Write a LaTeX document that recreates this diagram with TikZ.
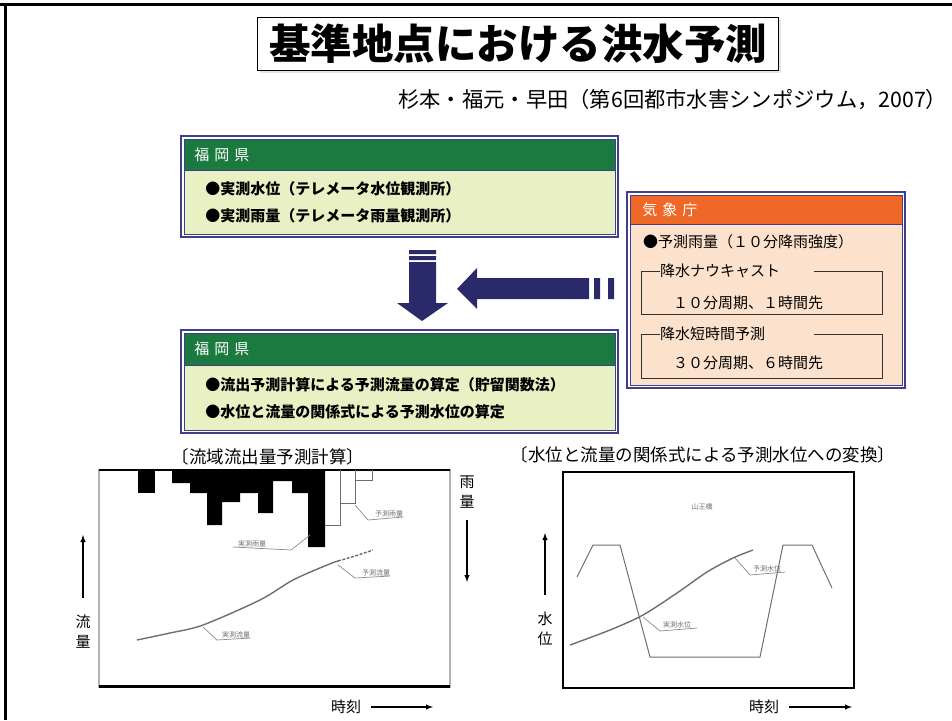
\documentclass[tikz,border=0pt]{standalone}
\usepackage{fontspec}
\setmainfont{Noto Sans CJK JP}
\usetikzlibrary{positioning,shadows}
\definecolor{framenavy}{RGB}{64,64,136}
\definecolor{hdgreen}{RGB}{26,122,64}
\definecolor{bodyyellow}{RGB}{232,240,196}
\definecolor{hdorange}{RGB}{240,104,40}
\definecolor{bodypeach}{RGB}{252,226,204}
\definecolor{arrownavy}{RGB}{42,42,106}
\definecolor{plotgrey}{RGB}{110,110,110}
\newcommand{\fsz}[1]{\fontsize{#1}{#1}\selectfont}

\begin{document}
\begin{tikzpicture}[x=1pt,y=-1pt,
    outerframe/.style={draw=framenavy,line width=1.3pt},
    hdbox/.style={anchor=north west,draw=framenavy,line width=0.6pt,inner xsep=10pt,inner ysep=0pt,
                  text=white,font=\fsz{15},align=left},
    bodybox/.style={anchor=north west,draw=framenavy,line width=0.6pt,inner ysep=0pt,
                    font=\fontsize{15}{27}\selectfont\bfseries,align=left},
    jmatext/.style={anchor=west,inner sep=0pt,font=\fsz{15}},
    subline/.style={draw=black!80,line width=0.7pt},
    blockarrow/.style={fill=arrownavy},
    chartlbl/.style={inner sep=0pt,font=\fsz{7},text=plotgrey},
    leader/.style={draw=plotgrey!80,line width=0.7pt},
    caption/.style={inner sep=0pt,font=\fsz{17.5}},
    axislbl/.style={inner sep=0pt,font=\fontsize{15}{20}\selectfont,align=center},
    axisarrow/.style={-latex,line width=1.4pt}]
\useasboundingbox (0,0) rectangle (952,720);
% outer frame
\draw[line width=3pt] (0,4) -- (952,4);
\draw[line width=3pt] (5,4) -- (5,720);

% title
\node[draw,fill=white,line width=0.8pt,minimum width=521pt,minimum height=53pt,
      font=\fsz{41.5}\bfseries,drop shadow={shadow xshift=2pt,shadow yshift=-2pt,fill=gray!40}]
      (title) at (518,44) {基準地点における洪水予測};
\node[anchor=west,inner sep=0pt,font=\fsz{21.3}] (source) at (398,100)
      {杉本・福元・早田（第6回都市水害シンポジウム，2007）};

% Fukuoka prefecture: observation
\draw[outerframe] (181,136) rectangle (618,237);
\node[hdbox,fill=hdgreen,text width=411pt,minimum height=31pt] (prefA) at (184,139) {福 岡 県};
\node[bodybox,fill=bodyyellow,text width=389pt,inner xsep=21pt,minimum height=64pt] (obs) at (184,170)
      {●実測水位（テレメータ水位観測所）\\●実測雨量（テレメータ雨量観測所）};

% Fukuoka prefecture: forecast
\draw[outerframe] (181,330) rectangle (618,433);
\node[hdbox,fill=hdgreen,text width=411pt,minimum height=32pt] (prefB) at (184,333) {福 岡 県};
\node[bodybox,fill=bodyyellow,text width=389pt,inner xsep=21pt,minimum height=65pt] (fcst) at (184,365)
      {●流出予測計算による予測流量の算定（貯留関数法）\\●水位と流量の関係式による予測水位の算定};

% JMA
\draw[outerframe] (627,192) rectangle (905,388);
\node[hdbox,fill=hdorange,text width=248pt,inner xsep=12pt,minimum height=29pt] (jma) at (630,195) {気 象 庁};
\node[anchor=north west,draw=framenavy,line width=0.6pt,fill=bodypeach,minimum width=272pt,
      minimum height=161pt,inner sep=0pt] (jmabody) at (630,224) {};
\node[jmatext] (jmarain) at (643,242) {●予測雨量（１０分降雨強度）};
\node[jmatext] (nowcast) at (660,271) {降水ナウキャスト};
\node[jmatext] (nowcastv) at (673,303) {１０分周期、１時間先};
\node[jmatext] (shortfc) at (660,334) {降水短時間予測};
\node[jmatext] (shortfcv) at (673,363) {３０分周期、６時間先};
\draw[subline] (nowcast.west) -- (641,271) -- (641,314) -- (882,314) -- (882,271) -- (814,271);
\draw[subline] (shortfc.west) -- (641,334) -- (641,378) -- (882,378) -- (882,334) -- (814,334);

% block arrows
\fill[blockarrow] (409,250) rectangle (436,254) (409,256) rectangle (436,260);
\fill[blockarrow] (409,262) -- (436,262) -- (436,303) -- (448,303) -- (422,321) -- (397,303) -- (409,303) -- cycle;
\fill[blockarrow] (589,278) -- (477,278) -- (477,268) -- (457,289) -- (477,309) -- (477,299) -- (589,299) -- cycle;
\fill[blockarrow] (594,278) rectangle (600,299) (608,278) rectangle (614,299);

% runoff chart
\node[caption] (runoffcap) at (268,457) {〔流域流出量予測計算〕};
\draw[gray!60,line width=1.2pt] (99,470) rectangle (450,687);
\draw[line width=1.5pt] (99,470) -- (450,470);
\draw[line width=3pt] (99,686) -- (450,686);
\fill (138,470) rectangle (155,493);
\fill (172,470) -- (172,483) -- (190,483) -- (190,493) -- (207,493) -- (207,525) -- (222,525) -- (222,502)
      -- (240,502) -- (240,493) -- (258,493) -- (258,513) -- (273,513) -- (273,481) -- (292,481) -- (292,493)
      -- (308,493) -- (308,547) -- (325,547) -- (325,470) -- cycle;
\draw[plotgrey,line width=0.8pt] (325,525) -- (340,525) -- (340,470) (340,503) -- (355,503) -- (355,470)
      (355,480) -- (372,480) -- (372,470);
\draw[plotgrey,line width=1.4pt] plot[smooth] coordinates {(137,640) (170,633) (203,625) (260,600) (293,580) (327,565) (338,561)};
\draw[plotgrey,line width=1.4pt,dash pattern=on 3pt off 1.5pt] plot[smooth] coordinates {(338,561) (355,556) (373,550)};
\node[chartlbl,anchor=south west] (fcrain) at (375,517) {予測雨量};
\node[chartlbl,anchor=south west] (obsrain) at (238,547) {実測雨量};
\node[chartlbl,anchor=south west] (fcflow) at (362,576) {予測流量};
\node[chartlbl,anchor=south west] (obsflow) at (222,638) {実測流量};
\draw[leader] (355,505) -- (368,520) -- (fcrain.south east);
\draw[leader] (310,535) -- (291,550) -- ([xshift=-5pt]obsrain.south west);
\draw[leader] (338,565) -- (355,578) -- (fcflow.south east);
\draw[leader] (203,627) -- (217,640) -- (obsflow.south east);
\node[axislbl] (flowlbl) at (83,632) {流\\量};
\node[axislbl] (rainlbl) at (467,492) {雨\\量};
\node[axislbl,anchor=west] (timeA) at (331,707) {時刻};
\draw[axisarrow] (83,598) -- (83,535);
\draw[axisarrow] (467,520) -- (467,582);
\draw[axisarrow] ([xshift=10pt]timeA.east) -- (433,707);

% stage chart
\node[caption] (stagecap) at (703,455) {〔水位と流量の関係式による予測水位への変換〕};
\draw[line width=1.5pt] (563,472) rectangle (854,688);
\draw[plotgrey,line width=1pt] (577,577) -- (593,545) -- (620,545) -- (650,657) -- (760,657) -- (783,545)
      -- (812,545) -- (832,588);
\draw[plotgrey,line width=1.4pt] plot[smooth] coordinates {(570,645) (610,630) (643,615) (677,593) (707,572) (733,558) (753,550)};
\node[chartlbl] (station) at (702,507) {山王橋};
\node[chartlbl,anchor=south west] (fcstage) at (753,572) {予測水位};
\node[chartlbl,anchor=south west] (obsstage) at (663,628) {実測水位};
\draw[leader] (735,558) -- (750,575) -- ([xshift=4pt]fcstage.south east);
\draw[leader] (643,617) -- (660,631) -- ([xshift=6pt]obsstage.south east);
\node[axislbl] (stagelbl) at (545,629) {水\\位};
\node[axislbl,anchor=west] (timeB) at (749,707) {時刻};
\draw[axisarrow] (545,595) -- (545,533);
\draw[axisarrow] ([xshift=10pt]timeB.east) -- (852,707);
\end{tikzpicture}
\end{document}
